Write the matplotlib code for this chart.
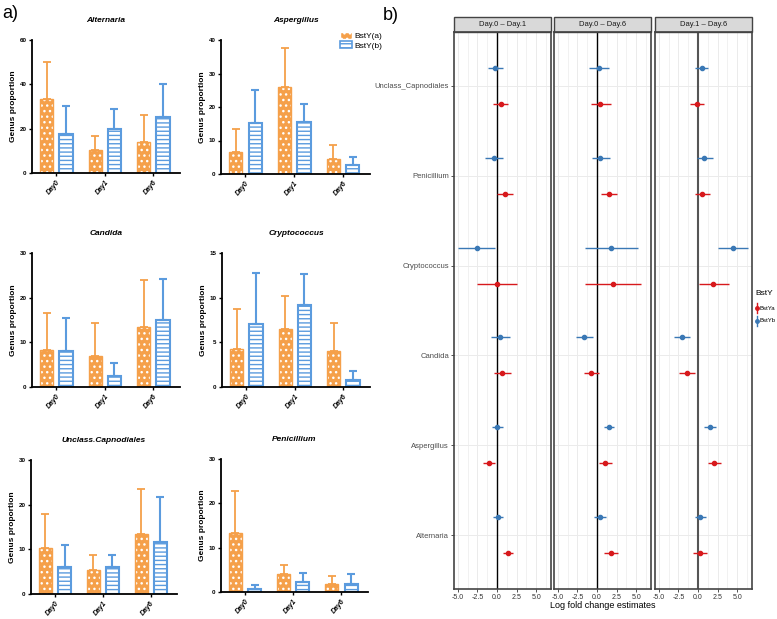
import numpy as np
import matplotlib
matplotlib.use("Agg")
import matplotlib.pyplot as plt
from matplotlib.patches import Patch, Rectangle
from matplotlib.lines import Line2D

plt.rcParams['font.family'] = ['Liberation Sans', 'DejaVu Sans']
plt.rcParams['hatch.linewidth'] = 1.0

# --- data: panel a (bar means and upper error) ---
days = ['Day0', 'Day1', 'Day6']
genera_a = ['Alternaria', 'Aspergillus', 'Candida', 'Cryptococcus', 'Unclass.Capnodiales', 'Penicillium']
ymax_a = [60, 40, 30, 15, 30, 30]
ystep_a = [20, 10, 10, 5, 10, 10]

bsta_mean = [[33.5, 10.5, 14.0], [6.6, 26.0, 4.5], [8.3, 7.0, 13.5],
             [4.3, 6.5, 4.0], [10.2, 5.3, 13.5], [13.2, 4.0, 1.9]]
bsta_err = [[16.5, 6.0, 12.0], [6.7, 11.5, 4.3], [8.2, 7.3, 10.5],
            [4.4, 3.7, 3.2], [7.8, 3.5, 10.0], [9.6, 2.1, 1.6]]
bstb_mean = [[17.5, 19.8, 25.3], [15.3, 15.4, 2.8], [8.1, 2.4, 15.0],
             [7.0, 9.2, 0.8], [6.1, 6.0, 11.7], [0.6, 2.2, 1.8]]
bstb_err = [[12.5, 9.2, 14.7], [9.7, 5.6, 2.2], [7.3, 3.0, 9.2],
            [5.8, 3.5, 1.0], [4.9, 2.8, 10.1], [0.9, 2.1, 2.3]]

# --- data: panel b (log fold change estimates) ---
taxa_b = ['Alternaria', 'Aspergillus', 'Candida', 'Cryptococcus', 'Penicillium', 'Unclass_Capnodiales']
contrasts = ['Day.0 – Day.1', 'Day.0 – Day.6', 'Day.1 – Day.6']

ya_est = [[1.45, -1.07, 0.64, 0.0, 1.07, 0.47],
          [1.75, 1.07, -0.73, 2.0, 1.54, 0.4],
          [0.26, 2.05, -1.45, 1.97, 0.5, -0.13]]
ya_lo = [[0.8, -1.8, -0.43, -2.5, 0.05, -0.5],
         [0.9, 0.3, -1.7, -1.6, 0.55, -0.8],
         [-0.6, 1.28, -2.4, 0.1, -0.43, -1.0]]
ya_hi = [[2.1, -0.2, 1.8, 2.5, 2.0, 1.45],
         [2.7, 1.9, 0.3, 5.6, 2.6, 1.75],
         [1.15, 2.95, -0.4, 3.9, 1.5, 0.77]]
yb_est = [[0.1, 0.04, 0.43, -2.6, -0.4, -0.2],
          [0.34, 1.54, -1.67, 1.84, 0.43, 0.2],
          [0.2, 1.5, -2.1, 4.44, 0.8, 0.47]]
yb_lo = [[-0.5, -0.65, -0.77, -5.0, -1.5, -1.15],
         [-0.43, 0.9, -2.65, -1.6, -0.7, -1.0],
         [-0.43, 0.8, -3.1, 2.56, -0.17, -0.34]]
yb_hi = [[0.7, 0.73, 1.7, -0.2, 0.7, 0.7],
         [1.15, 2.2, -0.55, 5.3, 1.6, 1.5],
         [1.0, 2.26, -1.0, 6.37, 1.9, 1.28]]

ORANGE = '#F5A04A'
BLUE = '#5B9BDE'
RED = '#D7191C'
SBLUE = '#3A78B5'

W, H = 777, 619
fig = plt.figure(figsize=(W / 100, H / 100), dpi=100)


def px_axes(l, t, r, b):
    return fig.add_axes([l / W, 1 - b / H, (r - l) / W, (b - t) / H])


def bar_panel(ax, i):
    x = np.arange(len(days))
    w = 0.27
    ax.bar(x - 0.2, bsta_mean[i], w, color=ORANGE, edgecolor='white', hatch='...', linewidth=0)
    ax.bar(x - 0.2, bsta_mean[i], w, fill=False, edgecolor=ORANGE, linewidth=1.0)
    ax.errorbar(x - 0.2, bsta_mean[i], yerr=[np.zeros(3), bsta_err[i]], fmt='none',
                ecolor=ORANGE, elinewidth=1.3, capsize=3, capthick=1.3)
    ax.bar(x + 0.2, bstb_mean[i], w, facecolor='white', edgecolor=BLUE, hatch='----', linewidth=1.5)
    ax.errorbar(x + 0.2, bstb_mean[i], yerr=[np.zeros(3), bstb_err[i]], fmt='none',
                ecolor=BLUE, elinewidth=1.5, capsize=3, capthick=1.5)
    ax.set_xlim(-0.5, 2.55)
    ax.set_ylim(0, ymax_a[i])
    ax.set_yticks(np.arange(0, ymax_a[i] + 1, ystep_a[i]))
    ax.set_xticks(x)
    ax.set_xticklabels(days, rotation=50, ha='right', rotation_mode='anchor',
                       fontsize=5, fontweight='bold', style='italic')
    for lab in ax.get_yticklabels():
        lab.set_fontsize(4.5)
        lab.set_fontweight('bold')
    ax.spines['top'].set_visible(False)
    ax.spines['right'].set_visible(False)
    ax.spines['left'].set_linewidth(1.3)
    ax.spines['bottom'].set_linewidth(1.3)
    ax.tick_params(length=2.5, width=1, pad=1.5)
    ax.set_title(genera_a[i], fontsize=6, fontweight='bold', style='italic', pad=13)
    ax.set_ylabel('Genus proportion', fontsize=6, fontweight='bold', labelpad=2)


# panel a positions (pixels: left, top, right, bottom)
pos_a = [(32, 40, 180, 173), (221, 40, 370, 174),
         (32, 253, 180, 387), (222, 253, 370, 387),
         (31, 460, 177, 594), (221, 459, 368, 592)]
for i, p in enumerate(pos_a):
    bar_panel(px_axes(*p), i)

fig.legend(handles=[Patch(facecolor=ORANGE, edgecolor='white', hatch='...', label='BstY(a)'),
                    Patch(facecolor='white', edgecolor=BLUE, hatch='----', linewidth=1.2, label='BstY(b)')],
           loc='upper left', bbox_to_anchor=(336 / W, 1 - 28 / H), frameon=False, fontsize=6,
           handlelength=1.4, handleheight=0.8, handletextpad=0.3, labelspacing=0.15, borderpad=0)

# panel b
pos_b = [(454, 32, 551, 589), (554, 32, 651, 589), (655, 32, 752, 589)]
yy = np.arange(1, len(taxa_b) + 1)
for k, p in enumerate(pos_b):
    ax = px_axes(*p)
    ax.set_xlim(-5.5, 6.9)
    ax.set_ylim(0.4, 6.6)
    ax.set_xticks([-5, -2.5, 0, 2.5, 5])
    ax.set_xticks([-3.75, -1.25, 1.25, 3.75, 6.25], minor=True)
    ax.set_xticklabels(['-5.0', '-2.5', '0.0', '2.5', '5.0'], fontsize=5, color='#4D4D4D')
    ax.set_yticks(yy)
    ax.grid(True, which='major', color='#EBEBEB', linewidth=0.7)
    ax.grid(True, which='minor', axis='x', color='#EFEFEF', linewidth=0.6)
    ax.tick_params(which='minor', length=0)
    ax.tick_params(which='major', length=2, width=0.6, colors='#333333', pad=1.5)
    if k == 0:
        ax.set_yticklabels(taxa_b, fontsize=5.5, color='#4D4D4D')
    else:
        ax.set_yticklabels([])
        ax.tick_params(axis='y', which='major', length=0)
    ax.set_axisbelow(True)
    ax.axvline(0, color='black' if k < 2 else '#555555', linewidth=1.0 if k < 2 else 1.5, zorder=1)

    ea = np.array(ya_est[k])
    eb = np.array(yb_est[k])
    ax.errorbar(ea, yy - 0.2, xerr=[ea - np.array(ya_lo[k]), np.array(ya_hi[k]) - ea],
                fmt='o', color=RED, ms=3, elinewidth=1.0, capsize=0, zorder=3)
    ax.errorbar(eb, yy + 0.2, xerr=[eb - np.array(yb_lo[k]), np.array(yb_hi[k]) - eb],
                fmt='o', color=SBLUE, ms=3, elinewidth=1.0, capsize=0, zorder=3)
    for s in ax.spines.values():
        s.set_color('#444444')
        s.set_linewidth(1.2)
    ax.add_patch(Rectangle((0, 1), 1, 15 / 557, transform=ax.transAxes, facecolor='#D9D9D9',
                           edgecolor='#444444', linewidth=1.0, clip_on=False))
    ax.text(0.5, 1 + 7.5 / 557, contrasts[k], transform=ax.transAxes, ha='center', va='center',
            fontsize=5.5, color='#1A1A1A')

fig.text(603 / W, 1 - 606 / H, 'Log fold change estimates', ha='center', va='center', fontsize=6.5)

# legend b
fig.text(755 / W, 1 - 293 / H, 'BstY', fontsize=6, va='center', ha='left')
for j, (lab, col) in enumerate([('BstYa', RED), ('BstYb', SBLUE)]):
    yf = 1 - (308 + 13 * j) / H
    fig.add_artist(Line2D([757 / W, 757 / W], [yf - 5 / H, yf + 5 / H], transform=fig.transFigure,
                          color=col, linewidth=1.0))
    fig.add_artist(Line2D([757 / W], [yf], transform=fig.transFigure, marker='o', ms=2.5,
                          color=col, linestyle=''))
    fig.text(759.5 / W, yf, lab, fontsize=4.3, va='center', ha='left')

fig.text(2 / W, 1 - 13 / H, 'a)', fontsize=13, va='center', ha='left')
fig.text(383 / W, 1 - 15 / H, 'b)', fontsize=13, va='center', ha='left')

fig.savefig('out.png', dpi=100)
